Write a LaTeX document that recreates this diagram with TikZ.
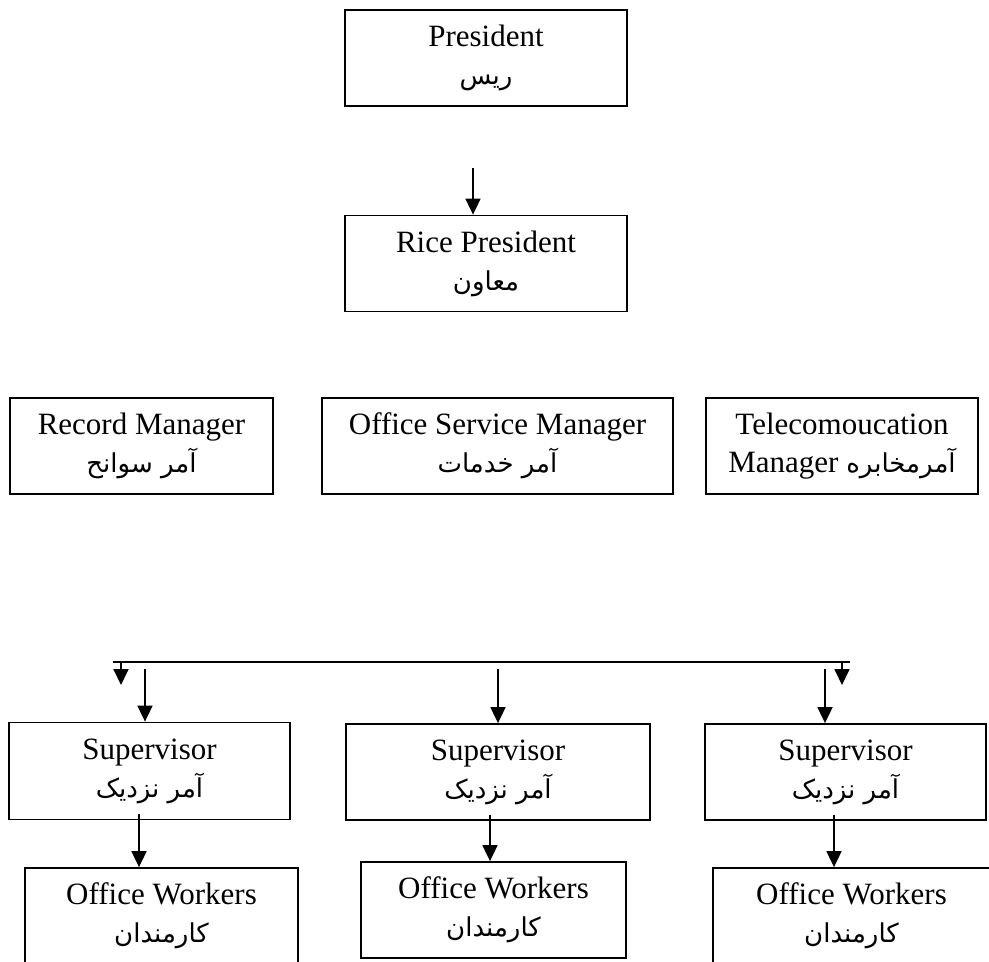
\documentclass[tikz,border=0pt]{standalone}
\usepackage{fontspec}
\setmainfont{Liberation Serif}
\newfontfamily\arabicfont[Script=Arabic]{DejaVu Sans}
\TeXXeTstate=1
\usetikzlibrary{arrows.meta}
\newcommand{\artext}[1]{{\arabicfont\fontsize{26}{28}\selectfont\beginR #1\endR}}

\begin{document}
\begin{tikzpicture}[x=1pt, y=-1pt,
    box/.style={draw, line width=1.8pt, minimum width=#1, minimum height=96pt,
      inner sep=0pt, align=center, font=\fontsize{31}{38}\selectfont},
    arr/.style={-{Triangle[width=15pt,length=16pt]}, line width=1.8pt}]
    \clip (0,0) rectangle (989,962);
    % president and vice
    \node[box=282pt] (pres) at (486,58) {President\\\artext{ريس}};
    \node[box=282pt] (vice) at (486,263.5) {Rice President\\\artext{معاون}};
    \coordinate (vicein) at (473,168);
    \draw[arr] (vicein) -- (vicein |- vice.north);
    % managers
    \node[box=263pt] (rec) at (141.5,446) {Record Manager\\\artext{آمر سوانح}};
    \node[box=351pt] (serv) at (497.5,446) {Office Service Manager\\\artext{آمر خدمات}};
    \node[box=272pt] (tele) at (842,446) {Telecomoucation\\Manager \artext{آمرمخابره}};
    % supervisors
    \node[box=281pt, minimum height=97pt] (sup1) at (149.5,771) {Supervisor\\\artext{آمر نزدیک}};
    \node[box=304pt] (sup2) at (498,772) {Supervisor\\\artext{آمر نزدیک}};
    \node[box=281pt] (sup3) at (845.5,772) {Supervisor\\\artext{آمر نزدیک}};
    % office workers
    \node[box=273pt] (wrk1) at (161.5,916) {Office Workers\\\artext{کارمندان}};
    \node[box=265pt] (wrk2) at (493.5,910) {Office Workers\\\artext{کارمندان}};
    \node[box=277pt] (wrk3) at (851.5,916) {Office Workers\\\artext{کارمندان}};
    % bus line
    \coordinate (busL) at (113,662);
    \coordinate (busR) at (850,662);
    \draw[line width=1.8pt] (busL) -- (busR);
    \coordinate (dropL) at (121,685);
    \coordinate (dropR) at (842,685);
    \draw[arr] (dropL |- busL) -- (dropL);
    \draw[arr] (dropR |- busR) -- (dropR);
    % into supervisors
    \coordinate (in1) at (145,669);
    \coordinate (in2) at (498,669);
    \coordinate (in3) at (825,669);
    \draw[arr] (in1) -- (in1 |- sup1.north);
    \draw[arr] (in2) -- (in2 |- sup2.north);
    \draw[arr] (in3) -- (in3 |- sup3.north);
    % supervisors to workers
    \draw[arr] ([xshift=-10.5pt,yshift=6pt]sup1.south) -- ([xshift=-10.5pt]sup1.south |- wrk1.north);
    \draw[arr] ([xshift=-8pt,yshift=6pt]sup2.south) -- ([xshift=-8pt]sup2.south |- wrk2.north);
    \draw[arr] ([xshift=-11.5pt,yshift=6pt]sup3.south) -- ([xshift=-11.5pt]sup3.south |- wrk3.north);
  \end{tikzpicture}
\end{document}
